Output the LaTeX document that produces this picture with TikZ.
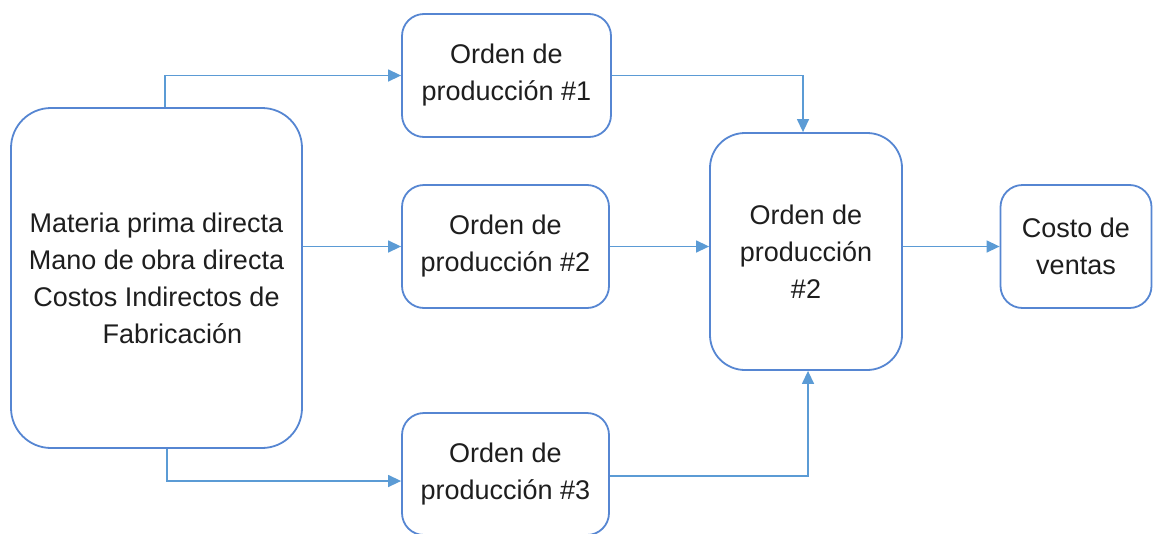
\documentclass[tikz,border=0pt]{standalone}
\usepackage{fontspec}
\setmainfont{Liberation Sans}
\usetikzlibrary{arrows.meta}
\definecolor{boxblue}{RGB}{86,134,210}
\definecolor{arrblue}{RGB}{91,155,213}
\definecolor{txt}{RGB}{30,30,30}
\tikzset{
  box/.style={draw=boxblue, line width=1.8pt, rounded corners=22pt, fill=white,
    inner sep=0pt, align=center, text=txt, font=\fontsize{27}{37}\selectfont},
  arr/.style={draw=arrblue, line width=1.4pt, -{Triangle[length=13pt,width=12pt]}}
}
\begin{document}
\begin{tikzpicture}[x=1pt,y=-1pt]
\useasboundingbox (0,0) rectangle (1153,533);
\clip (0,0) rectangle (1153,533);
\node[box, rounded corners=40pt, minimum width=291pt, minimum height=340pt] (big) at (156.5,278)
  {Materia prima directa\\Mano de obra directa\\Costos Indirectos de\\\hspace*{32pt}Fabricación};
\node[box, minimum width=209pt, minimum height=123pt] (o1) at (506.5,75.5) {Orden de\\producción \#1};
\node[box, minimum width=207pt, minimum height=123pt] (o2) at (505.5,246.5) {Orden de\\producción \#2};
\node[box, minimum width=207pt, minimum height=122pt] (o3) at (505.5,474) {Orden de\\producción \#3};
\node[box, rounded corners=35pt, minimum width=192pt, minimum height=237pt] (c) at (806,251.5) {Orden de\\producción\\\#2};
\node[box, minimum width=151pt, minimum height=123pt] (cv) at (1076,246.5) {Costo de\\ventas};
\draw[arr] ([xshift=8.5pt]big.north) |- (o1.west);
\draw[arr] (big.east |- o2.west) -- (o2.west);
\draw[arr] ([xshift=10.5pt]big.south) |- ([yshift=-7pt]o3.west);
\draw[arr] (o1.east) -| ([xshift=-3pt]c.north);
\draw[arr] (o2.east) -- (c.west |- o2.east);
\draw[arr] ([yshift=-2pt]o3.east) -| ([xshift=2pt]c.south);
\draw[arr] (c.east |- cv.west) -- (cv.west);
\end{tikzpicture}
\end{document}
